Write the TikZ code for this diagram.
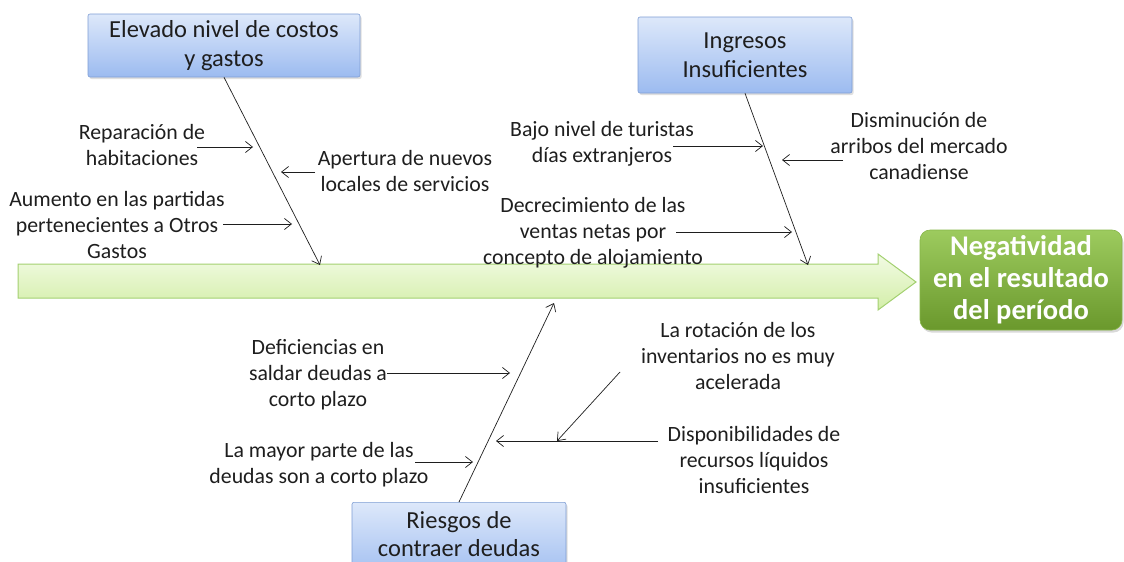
\documentclass[tikz,border=0pt]{standalone}
\usepackage{fontspec}
\setmainfont{Carlito}
\usetikzlibrary{shadows,arrows.meta}
\definecolor{bluetop}{HTML}{DDE8FA}
\definecolor{bluebot}{HTML}{9CBBF0}
\definecolor{blueline}{HTML}{7E9DD4}
\definecolor{gtop}{HTML}{9DCB5E}
\definecolor{gbot}{HTML}{6A982C}
\definecolor{gline}{HTML}{86B548}
\definecolor{atop}{HTML}{F2FBE4}
\definecolor{abot}{HTML}{D3EEA8}
\definecolor{aline}{HTML}{A3D070}
\definecolor{txt}{HTML}{1E1E1E}
\begin{document}
\begin{tikzpicture}[x=1pt,y=-1pt,
  catbox/.style={draw=blueline, line width=0.6pt, rounded corners=2pt, top color=bluetop, bottom color=bluebot,
    align=center, inner sep=0pt, text=txt, font=\fontsize{24.5}{28.5}\selectfont,
    drop shadow={opacity=0.25, shadow xshift=1.5pt, shadow yshift=-2pt}},
  lbl/.style={align=center, inner sep=0pt, text=txt, font=\fontsize{21.8}{25.8}\selectfont},
  bone/.style={-{Straight Barb[length=7pt,width=11pt]}, line width=0.7pt, txt},
  sub/.style={-{Straight Barb[length=7pt,width=11pt]}, line width=0.7pt, txt}]
\useasboundingbox (0,0) rectangle (1124,562);
\clip (0,0) rectangle (1124,562);

% main arrow
\draw[draw=aline, line width=1pt, top color=atop, bottom color=abot]
  (18,264) -- (878,264) -- (878,254) -- (916,282) -- (878,310) -- (878,298) -- (18,298) -- cycle;

% effect box
\node[draw=gline, line width=0.6pt, rounded corners=10pt, top color=gtop, bottom color=gbot,
  minimum width=202pt, minimum height=100pt, align=center, text=white, inner sep=0pt,
  font=\bfseries\fontsize{28.5}{32}\selectfont,
  drop shadow={opacity=0.3, shadow xshift=1.5pt, shadow yshift=-2.5pt}]
  (eff) at (1021,280) {Negatividad\\en el resultado\\del período};

% category boxes
\node[catbox, minimum width=272pt, minimum height=63pt] (b1) at (224,45.5) {Elevado nivel de costos\\y gastos};
\node[catbox, minimum width=214pt, minimum height=76pt] (b2) at (745,55) {Ingresos\\Insuficientes};
\node[catbox, minimum width=214pt, minimum height=80pt, anchor=north] (b3) at (459,502) {};
\node[align=center, inner sep=0pt, text=txt, font=\fontsize{24.5}{28}\selectfont] (b3t) at (459,534) {Riesgos de\\contraer deudas};

% bone end points
\coordinate (e1) at (320,265);
\coordinate (e2) at (808,265);
\coordinate (e3) at (554,303);
\draw[bone] (b1.south) -- (e1);
\draw[bone] (b2.south) -- (e2);
\draw[bone] (b3.north) -- (e3);

% labels
\node[lbl] (l1) at (142,145) {Reparación de\\habitaciones};
\node[lbl] (l2) at (405,171) {Apertura de nuevos\\locales de servicios};
\node[lbl] (l3) at (117,225) {Aumento en las partidas\\pertenecientes a Otros\\Gastos};
\node[lbl] (l4) at (602,144) {Bajo nivel de turistas\\días extranjeros};
\node[lbl] (l5) at (919,146) {Disminución de\\arribos del mercado\\canadiense};
\node[lbl] (l6) at (593,233) {Decrecimiento de las\\ventas netas por\\concepto de alojamiento};
\node[lbl] (l7) at (318,375) {Deficiencias en\\saldar deudas a\\corto plazo};
\node[lbl] (l8) at (319,465) {La mayor parte de las\\deudas son a corto plazo};
\node[lbl] (l9) at (738,356) {La rotación de los\\inventarios no es muy\\acelerada};
\node[lbl] (l10) at (754,460) {Disponibilidades de\\recursos líquidos\\insuficientes};

% sub-cause arrows
\coordinate (s1) at (197,147); \coordinate (t1) at (253,147);
\coordinate (s2) at (315,172); \coordinate (t2) at (281,172);
\coordinate (s3) at (223,224); \coordinate (t3) at (292,224);
\coordinate (s4) at (673,146); \coordinate (t4) at (763,146);
\coordinate (s5) at (843,160); \coordinate (t5) at (782,160);
\coordinate (s6) at (676,232); \coordinate (t6) at (792,232);
\coordinate (s7) at (387,373); \coordinate (t7) at (510,373);
\coordinate (s8) at (415,462); \coordinate (t8) at (473,462);
\coordinate (s10) at (658,441); \coordinate (t10) at (496,441);
\coordinate (s9) at (620,372); \coordinate (t9) at (557,441);
\draw[sub] (s1) -- (t1);
\draw[sub] (s2) -- (t2);
\draw[sub] (s3) -- (t3);
\draw[sub] (s4) -- (t4);
\draw[sub] (s5) -- (t5);
\draw[sub] (s6) -- (t6);
\draw[sub] (s7) -- (t7);
\draw[sub] (s8) -- (t8);
\draw[sub] (s10) -- (t10);
\draw[sub] (s9) -- (t9);
\end{tikzpicture}
\end{document}
